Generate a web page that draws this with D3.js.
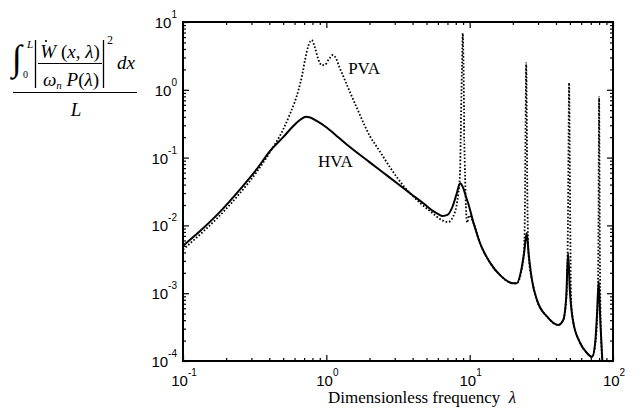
<!DOCTYPE html>
<html><head><meta charset="utf-8">
<script src="https://cdn.jsdelivr.net/npm/d3@7/dist/d3.min.js"></script>
<style>
html,body{margin:0;padding:0;background:#fff;}
svg{display:block;}
</style></head>
<body>
<svg id="chart" width="641" height="414"></svg>
<script>
// ---- data ----
const hvaX = [0.1,0.14,0.181,0.25,0.328,0.404,0.5,0.586,0.65,0.72,0.76,0.85,1.0,1.21,1.46,2.0,2.5,3.2,4.0,4.8,5.5,6.0,6.5,7.0,7.6,8.1,8.57,9.0,9.4,9.75,10.7,11.8,13.9,16.5,20.1,21.3,22.8,24.0,25.0,25.8,27.2,29.5,34.7,41.4,44.9,47.2,48.6,50.0,52.5,58.9,65,71.5,75,77.4,79.5,81.5,84,86];
const hvaY = [0.005,0.0093,0.0158,0.034,0.068,0.125,0.2,0.29,0.355,0.40,0.395,0.35,0.28,0.2,0.143,0.0858,0.0598,0.0401,0.0279,0.0208,0.0165,0.0148,0.0138,0.0143,0.019,0.029,0.042,0.036,0.027,0.0214,0.0105,0.0055,0.0028,0.0018,0.0014,0.0014,0.0021,0.0040,0.0077,0.0038,0.00157,0.00079,0.00045,0.00034,0.0004,0.0009,0.0039,0.0011,0.0004,0.000186,0.000135,0.000115,0.00018,0.0005,0.0015,0.0004,0.000115,0.00005];

const pvaX = [0.1,0.14,0.181,0.25,0.328,0.404,0.5,0.56,0.6,0.64,0.68,0.71,0.75,0.79,0.83,0.88,0.93,0.98,1.04,1.11,1.17,1.23,1.31,1.46,1.66,1.86,2.02,2.2,2.37,2.78,3.5,4.5,5.5,6.3,7.06,7.9,8.3,8.57,8.65,8.72,8.85,8.95,9.05,9.15,9.14,9.28,9.42,9.6,9.9,10.7,11.8,13.9,16.5,20.1,21.3,22.8,24.0,24.3,24.55,24.8,25.05,25.3,25.8,27.2,29.5,34.7,41.4,44.9,47.5,48.6,49.0,49.4,49.8,50.2,51,52.5,58.9,65,71.5,75,78,79.2,79.6,80.0,80.4,80.8,82,84,86];
const pvaY = [0.0044,0.0083,0.014,0.030,0.062,0.12,0.26,0.45,0.65,1.0,1.7,2.75,4.5,5.4,4.3,2.8,2.3,2.35,2.8,3.26,2.9,2.2,1.6,0.93,0.5,0.29,0.205,0.155,0.122,0.072,0.037,0.0215,0.0152,0.0122,0.0112,0.0158,0.028,0.059,0.18,0.5,2.5,6.8,2.5,0.5,0.18,0.059,0.0187,0.011,0.014,0.0105,0.0055,0.0028,0.0018,0.0014,0.0014,0.002,0.0045,0.02,0.3,2.48,0.3,0.02,0.0035,0.00157,0.00079,0.00045,0.00034,0.0004,0.001,0.02,0.2,1.26,0.2,0.02,0.0008,0.0004,0.000186,0.000135,0.000115,0.00017,0.0006,0.01,0.12,0.78,0.12,0.01,0.0004,0.0001,0.00004];

const xMajor = [0.1, 1, 10, 100];
const xExp = ["-1", "0", "1", "2"];
const yMajor = [1e-4, 1e-3, 1e-2, 1e-1, 1, 10];
const yExp = ["-4", "-3", "-2", "-1", "0", "1"];
const seriesLabels = ["PVA", "HVA"];
const labelPos = [[1.42, 1.71], [0.875, 0.073]];
const xTitle = "Dimensionless frequency";

// ---- layout ----
const svg = d3.select("#chart");
const L = 183, T = 22, W = 430, H = 339;
const x = d3.scaleLog().domain([0.1, 100]).range([L, L + W]);
const y = d3.scaleLog().domain([1e-4, 10]).range([T + H, T]);

const minorX = [];
[-1,0,1].forEach(k => { for (let m = 2; m <= 9; m++) minorX.push(m * Math.pow(10, k)); });
const minorY = [];
[-4,-3,-2,-1,0].forEach(k => { for (let m = 2; m <= 9; m++) minorY.push(m * Math.pow(10, k)); });

svg.append("clipPath").attr("id", "clip").append("rect")
  .attr("x", L).attr("y", T).attr("width", W).attr("height", H);

// ticks (inward, all four sides)
function addAxis(gen, tx, ty) {
  svg.append("g").attr("transform", `translate(${tx},${ty})`).call(gen)
    .call(g => g.select(".domain").remove())
    .call(g => g.selectAll("text").remove())
    .call(g => g.selectAll("line").attr("stroke", "#000").attr("stroke-width", 1.2));
}
addAxis(d3.axisBottom(x).tickValues(xMajor).tickSize(-6), 0, T + H);
addAxis(d3.axisBottom(x).tickValues(minorX).tickSize(-3), 0, T + H);
addAxis(d3.axisTop(x).tickValues(xMajor).tickSize(-6), 0, T);
addAxis(d3.axisTop(x).tickValues(minorX).tickSize(-3), 0, T);
addAxis(d3.axisLeft(y).tickValues(yMajor).tickSize(-6), L, 0);
addAxis(d3.axisLeft(y).tickValues(minorY).tickSize(-3), L, 0);
addAxis(d3.axisRight(y).tickValues(yMajor).tickSize(-6), L + W, 0);
addAxis(d3.axisRight(y).tickValues(minorY).tickSize(-3), L + W, 0);

// curves
const line = d3.line().x(d => x(d[0])).y(d => y(d[1])).curve(d3.curveMonotoneX);
const hva = hvaX.map((v, i) => [v, hvaY[i]]);
const pva = pvaX.map((v, i) => [v, pvaY[i]]);
const gc = svg.append("g").attr("clip-path", "url(#clip)");
gc.append("path").attr("d", line(pva)).attr("fill", "none").attr("stroke", "#000")
  .attr("stroke-width", 1.8).attr("stroke-dasharray", "1.6,1.9");
gc.append("path").attr("d", line(hva)).attr("fill", "none").attr("stroke", "#000")
  .attr("stroke-width", 2);

// box
svg.append("rect").attr("x", L).attr("y", T).attr("width", W).attr("height", H)
  .attr("fill", "none").attr("stroke", "#000").attr("stroke-width", 2);

// tick labels
const sans = "'Liberation Sans', Arial, sans-serif";
const serif = "'Liberation Serif', 'Times New Roman', serif";
xMajor.forEach((v, i) => {
  const t = svg.append("text").attr("x", x(v) + 1).attr("y", T + H + 25)
    .attr("text-anchor", "middle").attr("font-family", sans).attr("font-size", 15).attr("fill", "#000");
  t.append("tspan").text("10");
  t.append("tspan").attr("dy", -10).attr("font-size", 10).text(xExp[i]);
});
yMajor.forEach((v, i) => {
  const t = svg.append("text").attr("x", L - 6).attr("y", y(v) + 6)
    .attr("text-anchor", "end").attr("font-family", sans).attr("font-size", 15).attr("fill", "#000");
  t.append("tspan").text("10");
  t.append("tspan").attr("dy", -10).attr("font-size", 10).text(yExp[i]);
});

// series labels
seriesLabels.forEach((s, i) => {
  svg.append("text").attr("x", x(labelPos[i][0])).attr("y", y(labelPos[i][1]))
    .attr("font-family", serif).attr("font-size", 17).attr("fill", "#000").text(s);
});

// x title
const xt = svg.append("text").attr("x", 328).attr("y", 403).attr("font-family", serif)
  .attr("font-size", 17).attr("fill", "#000");
xt.append("tspan").text(xTitle + "\u00a0\u00a0");
xt.append("tspan").attr("font-style", "italic").text("λ");

// y title (formula)
const fy = svg.append("g").attr("font-family", serif).attr("fill", "#000");
fy.append("text").attr("x", 12).attr("y", 70).attr("font-size", 36).text("∫");
fy.append("text").attr("x", 27).attr("y", 48).attr("font-size", 11).attr("font-style", "italic").text("L");
fy.append("text").attr("x", 23).attr("y", 78).attr("font-size", 10).text("0");
fy.append("line").attr("x1", 35.5).attr("x2", 35.5).attr("y1", 40).attr("y2", 88).attr("stroke", "#000").attr("stroke-width", 1.3);
fy.append("line").attr("x1", 103.5).attr("x2", 103.5).attr("y1", 40).attr("y2", 88).attr("stroke", "#000").attr("stroke-width", 1.3);
const num = fy.append("text").attr("x", 70).attr("y", 58).attr("text-anchor", "middle").attr("font-size", 19).attr("font-style", "italic");
num.append("tspan").text("W");
num.append("tspan").attr("font-style", "normal").text(" (");
num.append("tspan").text("x");
num.append("tspan").attr("font-style", "normal").text(", ");
num.append("tspan").text("λ");
num.append("tspan").attr("font-style", "normal").text(")");
fy.append("circle").attr("cx", 46).attr("cy", 41).attr("r", 1.1).attr("fill", "#000");
fy.append("line").attr("x1", 38).attr("x2", 102).attr("y1", 63.5).attr("y2", 63.5).attr("stroke", "#000").attr("stroke-width", 1);
const den = fy.append("text").attr("x", 71).attr("y", 86).attr("text-anchor", "middle").attr("font-size", 19).attr("font-style", "italic");
den.append("tspan").text("ω");
den.append("tspan").attr("font-size", 11).attr("dy", 3).text("n");
den.append("tspan").attr("dy", -3).text(" P");
den.append("tspan").attr("font-style", "normal").text("(");
den.append("tspan").text("λ");
den.append("tspan").attr("font-style", "normal").text(")");
fy.append("text").attr("x", 107).attr("y", 44).attr("font-size", 12).text("2");
fy.append("text").attr("x", 117).attr("y", 69).attr("font-size", 19).attr("font-style", "italic").text("dx");
fy.append("line").attr("x1", 13).attr("x2", 137).attr("y1", 92.5).attr("y2", 92.5).attr("stroke", "#000").attr("stroke-width", 1.2);
fy.append("text").attr("x", 76).attr("y", 116).attr("text-anchor", "middle").attr("font-size", 19).attr("font-style", "italic").text("L");
</script>
</body></html>
